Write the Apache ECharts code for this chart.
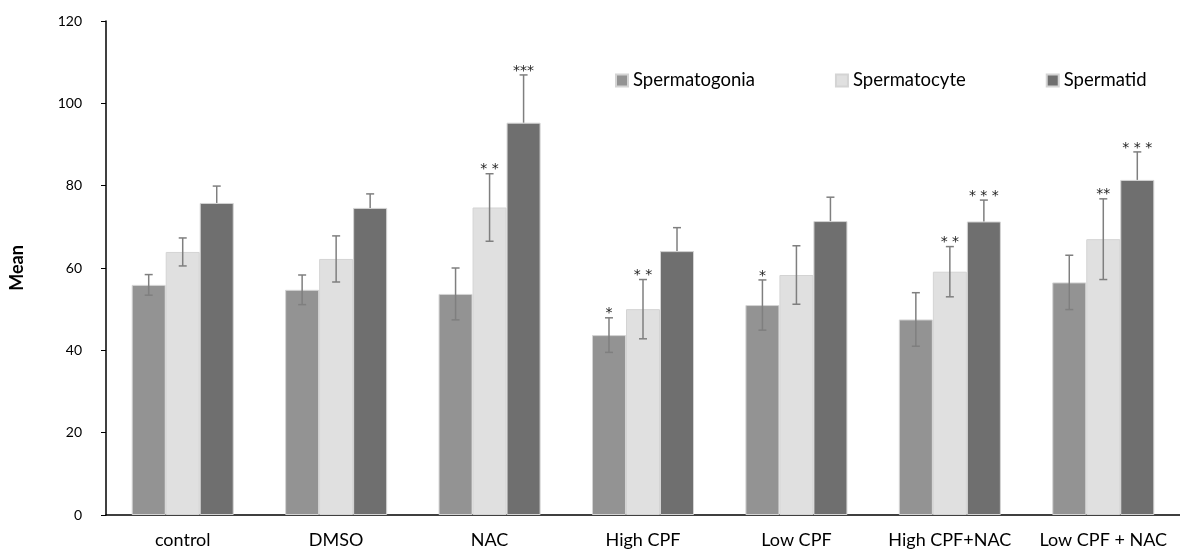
<!DOCTYPE html>
<html>
<head>
<meta charset="utf-8">
<script src="https://cdn.jsdelivr.net/npm/echarts@6/dist/echarts.min.js"></script>
<style>
  html, body { margin: 0; padding: 0; background: #fff; }
  #chart { width: 1180px; height: 550px; }
</style>
</head>
<body>
<div id="chart"></div>
<script>
// groups on the x axis
var groups = ['control', 'DMSO', 'NAC', 'High CPF', 'Low CPF', 'High CPF+NAC', 'Low CPF + NAC'];

var seriesNames = ['Spermatogonia', 'Spermatocyte', 'Spermatid'];

// mean values
var spermatogonia = [55.9, 54.7, 53.7, 43.7, 51.0, 47.5, 56.5];
var spermatocyte = [63.9, 62.2, 74.7, 50.0, 58.3, 59.1, 67.0];
var spermatid = [75.8, 74.6, 95.3, 64.1, 71.4, 71.3, 81.4];

// error bar sizes
var errGonia = [2.5, 3.6, 6.3, 4.2, 6.1, 6.5, 6.6];
var errCyte = [3.4, 5.6, 8.2, 7.2, 7.1, 6.1, 9.8];
var errTid = [4.1, 3.4, 11.6, 5.7, 5.8, 5.2, 6.8];

// significance marks
var sigGonia = ['', '', '', '*', '*', '', ''];
var sigCyte = ['', '', '* *', '* *', '', '* *', '**'];
var sigTid = ['', '', '***', '', '', '* * *', '* * *'];

var colors = ['#939393', '#e0e0e0', '#6f6f6f'];
var catGap = 0.335;
var font = 'Lato, "Open Sans", sans-serif';

function errSeries(idx, values, errs, marks, lowerToo) {
  var data = values.map(function (v, i) { return [i, v, errs[i]]; });
  return {
    type: 'custom',
    name: seriesNames[idx] + ' err',
    z: 5,
    data: data,
    renderItem: function (params, api) {
      var band = api.size([1, 0])[0];
      var bw = band * (1 - catGap) / 3;
      var x = api.coord([api.value(0), 0])[0] + (idx - 1) * bw;
      var v = api.value(1), e = api.value(2);
      var top = api.coord([api.value(0), v + e])[1];
      var mid = api.coord([api.value(0), v])[1];
      var bot = lowerToo ? api.coord([api.value(0), v - e])[1] : mid;
      var cap = 4;
      var st = { stroke: '#7f7f7f', lineWidth: 1.5 };
      var kids = [
        { type: 'line', shape: { x1: x, y1: top, x2: x, y2: bot }, style: st },
        { type: 'line', shape: { x1: x - cap, y1: top, x2: x + cap, y2: top }, style: st }
      ];
      if (lowerToo) {
        kids.push({ type: 'line', shape: { x1: x - cap, y1: bot, x2: x + cap, y2: bot }, style: st });
      }
      var mark = marks[params.dataIndex];
      if (mark) {
        kids.push({
          type: 'text',
          style: {
            text: mark, x: x, y: top + 3, align: 'center', verticalAlign: 'bottom',
            fill: '#222', font: '14px "DejaVu Sans", sans-serif'
          }
        });
      }
      return { type: 'group', children: kids };
    }
  };
}

function barSeries(idx, values) {
  return {
    type: 'bar',
    name: seriesNames[idx],
    data: values,
    barGap: '0%',
    barCategoryGap: (catGap * 100) + '%',
    itemStyle: { color: colors[idx], borderColor: '#d4d4d4', borderWidth: 1 }
  };
}

var chart = echarts.init(document.getElementById('chart'), null, { renderer: 'canvas' });

chart.setOption({
  animation: false,
  legend: {
    data: seriesNames,
    left: 610,
    top: 66,
    itemWidth: 12,
    itemHeight: 12,
    itemGap: 80,
    icon: 'rect',
    textStyle: { fontSize: 18.5, color: '#000', fontFamily: font }
  },
  grid: { left: 106, top: 21, width: 1088, height: 494 },
  xAxis: {
    type: 'category',
    data: groups,
    axisLine: { lineStyle: { color: '#000', width: 1.5 } },
    axisTick: { show: false },
    axisLabel: { color: '#000', fontSize: 18, margin: 16, fontFamily: font, interval: 0 }
  },
  yAxis: {
    type: 'value',
    min: 0,
    max: 120,
    interval: 20,
    name: 'Mean',
    nameLocation: 'middle',
    nameGap: 80,
    nameTextStyle: { fontSize: 18, fontWeight: 'bold', color: '#000', fontFamily: font },
    axisLine: { show: true, lineStyle: { color: '#000', width: 1.5 } },
    axisTick: { show: true, length: 5, lineStyle: { color: '#000' } },
    axisLabel: { color: '#000', fontSize: 14, margin: 24, fontFamily: font },
    splitLine: { show: false }
  },
  series: [
    barSeries(0, spermatogonia),
    barSeries(1, spermatocyte),
    barSeries(2, spermatid),
    errSeries(0, spermatogonia, errGonia, sigGonia, true),
    errSeries(1, spermatocyte, errCyte, sigCyte, true),
    errSeries(2, spermatid, errTid, sigTid, false)
  ]
});
</script>
</body>
</html>
